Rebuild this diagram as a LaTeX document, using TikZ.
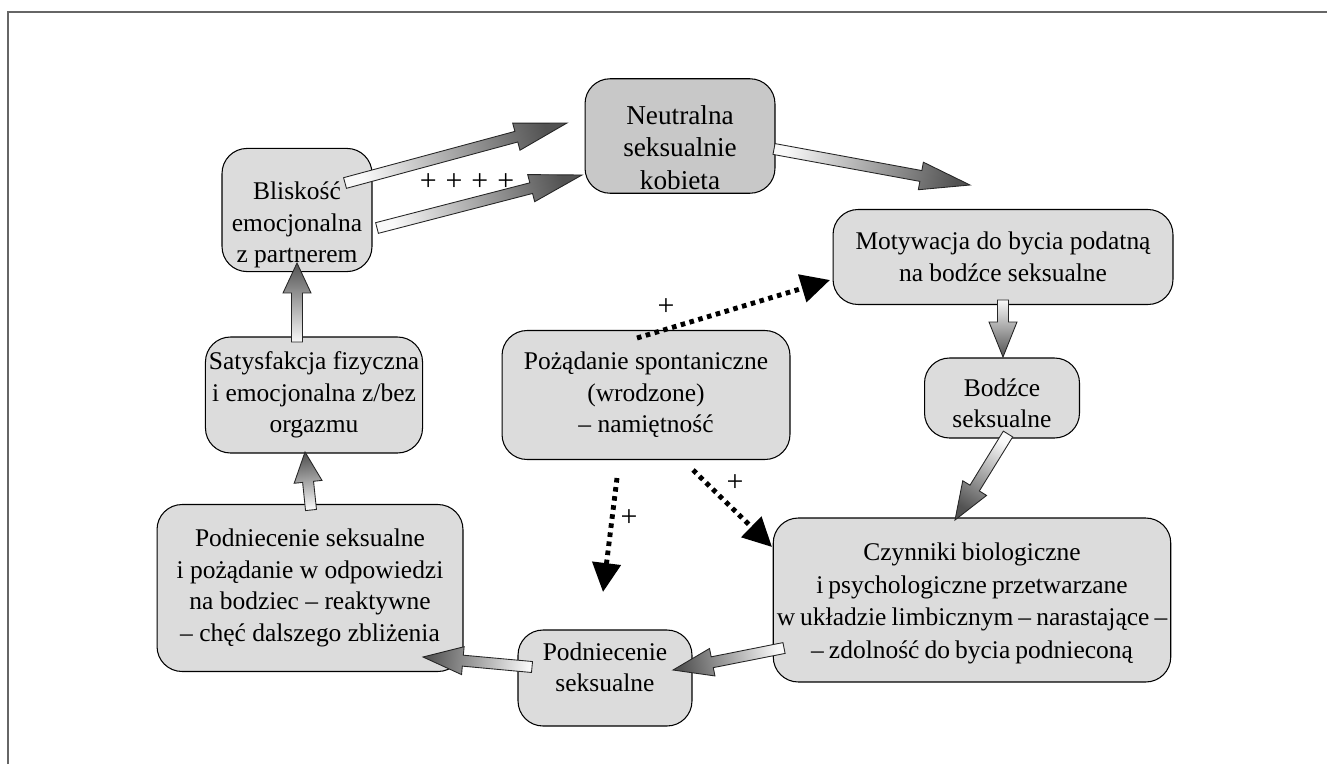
\documentclass[tikz,border=0pt]{standalone}
\usepackage{fontspec}
\setmainfont{Liberation Serif}
\usepackage{tikz}
\usetikzlibrary{arrows.meta,calc}
\definecolor{boxgray}{HTML}{DCDCDC}
\definecolor{darkboxgray}{HTML}{C8C8C8}
\definecolor{framegray}{HTML}{666666}

\newcommand{\tightwords}{\spaceskip=0.2em plus 0.05em\relax}

% shaded block arrow from tail #2 to tip #3, head length #1
\newcommand{\gradarrow}[3][0.75cm]{%
  \pgfmathanglebetweenpoints{\pgfpointanchor{#2}{center}}{\pgfpointanchor{#3}{center}}%
  \let\gradbase\pgfmathresult
  \pgfmathsetmacro{\gradang}{\gradbase+90}%
  \draw[blockarrow, shading angle=\gradang]
    let \p1=(#2), \p2=(#3), \p3=($(\p2)!#1!(\p1)$) in
    ($(\p1)!0.11cm!90:(\p2)$) -- ($(\p3)!0.11cm!90:(\p2)$) -- ($(\p3)!0.28cm!90:(\p2)$)
    -- (\p2) -- ($(\p3)!0.28cm!-90:(\p2)$) -- ($(\p3)!0.11cm!-90:(\p2)$)
    -- ($(\p1)!0.11cm!-90:(\p2)$) -- cycle;}

\begin{document}
\begin{tikzpicture}[
    x=0.02cm, y=-0.02cm,
    box/.style={draw, line width=0.6pt, fill=boxgray, rounded corners=0.5cm, align=center,
                font=\fontsize{14.5}{18}\selectfont, inner sep=2pt},
    mainbox/.style={box, fill=darkboxgray, font=\fontsize{15.5}{18.5}\selectfont},
    blockarrow/.style={draw=black!85, line width=0.5pt, left color=gray!5, right color=black!68},
    dotarrow/.style={line width=2.8pt, dash pattern=on 2.6pt off 2.6pt,
                     -{Triangle[length=0.58cm,width=0.56cm]}},
    plus/.style={font=\fontsize{17}{18}\selectfont, inner sep=0pt}
]
    \useasboundingbox (0,0) rectangle (1327,764);
    \draw[framegray, line width=1.1pt] (8,764) -- (8,12) -- (1327,12);

    % Boxes
    \node[mainbox, minimum width=3.8cm, minimum height=2.06cm] (neutral) at (680,136) {\rule{0pt}{24pt}Neutralna\\seksualnie\\kobieta};
    \node[box, minimum width=3cm, minimum height=2.1cm] (blisk) at (297,210) {\rule{0pt}{27pt}Bliskość\\emocjonalna\\z partnerem};
    \node[box, minimum width=6.8cm, minimum height=1.9cm] (motyw) at (1003,257) {Motywacja do bycia podatną\\na bodźce seksualne};
    \node[box, minimum width=3.1cm, minimum height=1.6cm] (bodzce) at (1002,398) {\rule{0pt}{16pt}Bodźce\\seksualne};
    \node[box, minimum width=3.7cm, minimum height=2.32cm] (satysf) at (314,395) {Satysfakcja fizyczna\\i emocjonalna z/bez\\orgazmu};
    \node[box, minimum width=5.76cm, minimum height=2.58cm] (pozad) at (646,395) {Pożądanie spontaniczne\\(wrodzone)\\– namiętność};
    \node[box, minimum width=6.12cm, minimum height=3.34cm] (reakt) at (310,588) {Podniecenie seksualne\\i pożądanie w odpowiedzi\\na bodziec – reaktywne\\– chęć dalszego zbliżenia};
    \node[box, minimum width=7.9cm, minimum height=3.28cm,
          font=\fontsize{14.5}{18.5}\selectfont\tightwords] (czynn) at (972,600)
          {\rule{0pt}{14pt}Czynniki biologiczne\\i psychologiczne przetwarzane\\w układzie limbicznym – narastające –\\– zdolność do bycia podnieconą};
    \node[box, minimum width=3.48cm, minimum height=1.92cm] (podn) at (605,678) {Podniecenie\\seksualne\rule[-12.4pt]{0pt}{12.4pt}};

    % Arrow ends
    \coordinate (blisk-t1) at (345,183);
    \coordinate (neutral-h1) at (567,123);
    \coordinate (blisk-t2) at (377,228);
    \coordinate (neutral-h2) at (582,175);
    \coordinate (neutral-t) at (774,149);
    \coordinate (motyw-h) at (970,185);
    \coordinate (motyw-t) at (1003,300);
    \coordinate (bodzce-h) at (1003,357);
    \coordinate (bodzce-t) at (1008,434);
    \coordinate (czynn-h) at (955,520);
    \coordinate (czynn-t) at (784,648);
    \coordinate (podn-h) at (673,670);
    \coordinate (podn-t) at (532,667);
    \coordinate (reakt-h) at (423,657);
    \coordinate (reakt-t) at (311,510);
    \coordinate (satysf-h) at (305,452);
    \coordinate (satysf-t) at (297,342);
    \coordinate (blisk-h) at (297,263);

    % Shaded arrows
    \gradarrow[1.05cm]{blisk-t1}{neutral-h1}
    \gradarrow[1.05cm]{blisk-t2}{neutral-h2}
    \gradarrow[1.0cm]{neutral-t}{motyw-h}
    \gradarrow[0.7cm]{motyw-t}{bodzce-h}
    \gradarrow[0.75cm]{bodzce-t}{czynn-h}
    \gradarrow[0.8cm]{czynn-t}{podn-h}
    \gradarrow[0.8cm]{podn-t}{reakt-h}
    \gradarrow[0.6cm]{reakt-t}{satysf-h}
    \gradarrow[0.6cm]{satysf-t}{blisk-h}
    \node[plus] (plus4) at (467,182) {+\hspace{0.3em}+\hspace{0.3em}+\hspace{0.3em}+};

    % Dotted arrows from spontaneous desire
    \coordinate (pozad-t1) at (637,338);
    \coordinate (motyw-d) at (830,280);
    \coordinate (pozad-t2) at (693,470);
    \coordinate (czynn-d) at (772,547);
    \coordinate (pozad-t3) at (617,478);
    \coordinate (podn-d) at (603,592);
    \draw[dotarrow] (pozad-t1) -- (motyw-d);
    \draw[dotarrow] (pozad-t2) -- (czynn-d);
    \draw[dotarrow] (pozad-t3) -- (podn-d);
    \node[plus] (plus1) at (666,307) {+};
    \node[plus] (plus2) at (735,483) {+};
    \node[plus] (plus3) at (629,518) {+};
\end{tikzpicture}
\end{document}
